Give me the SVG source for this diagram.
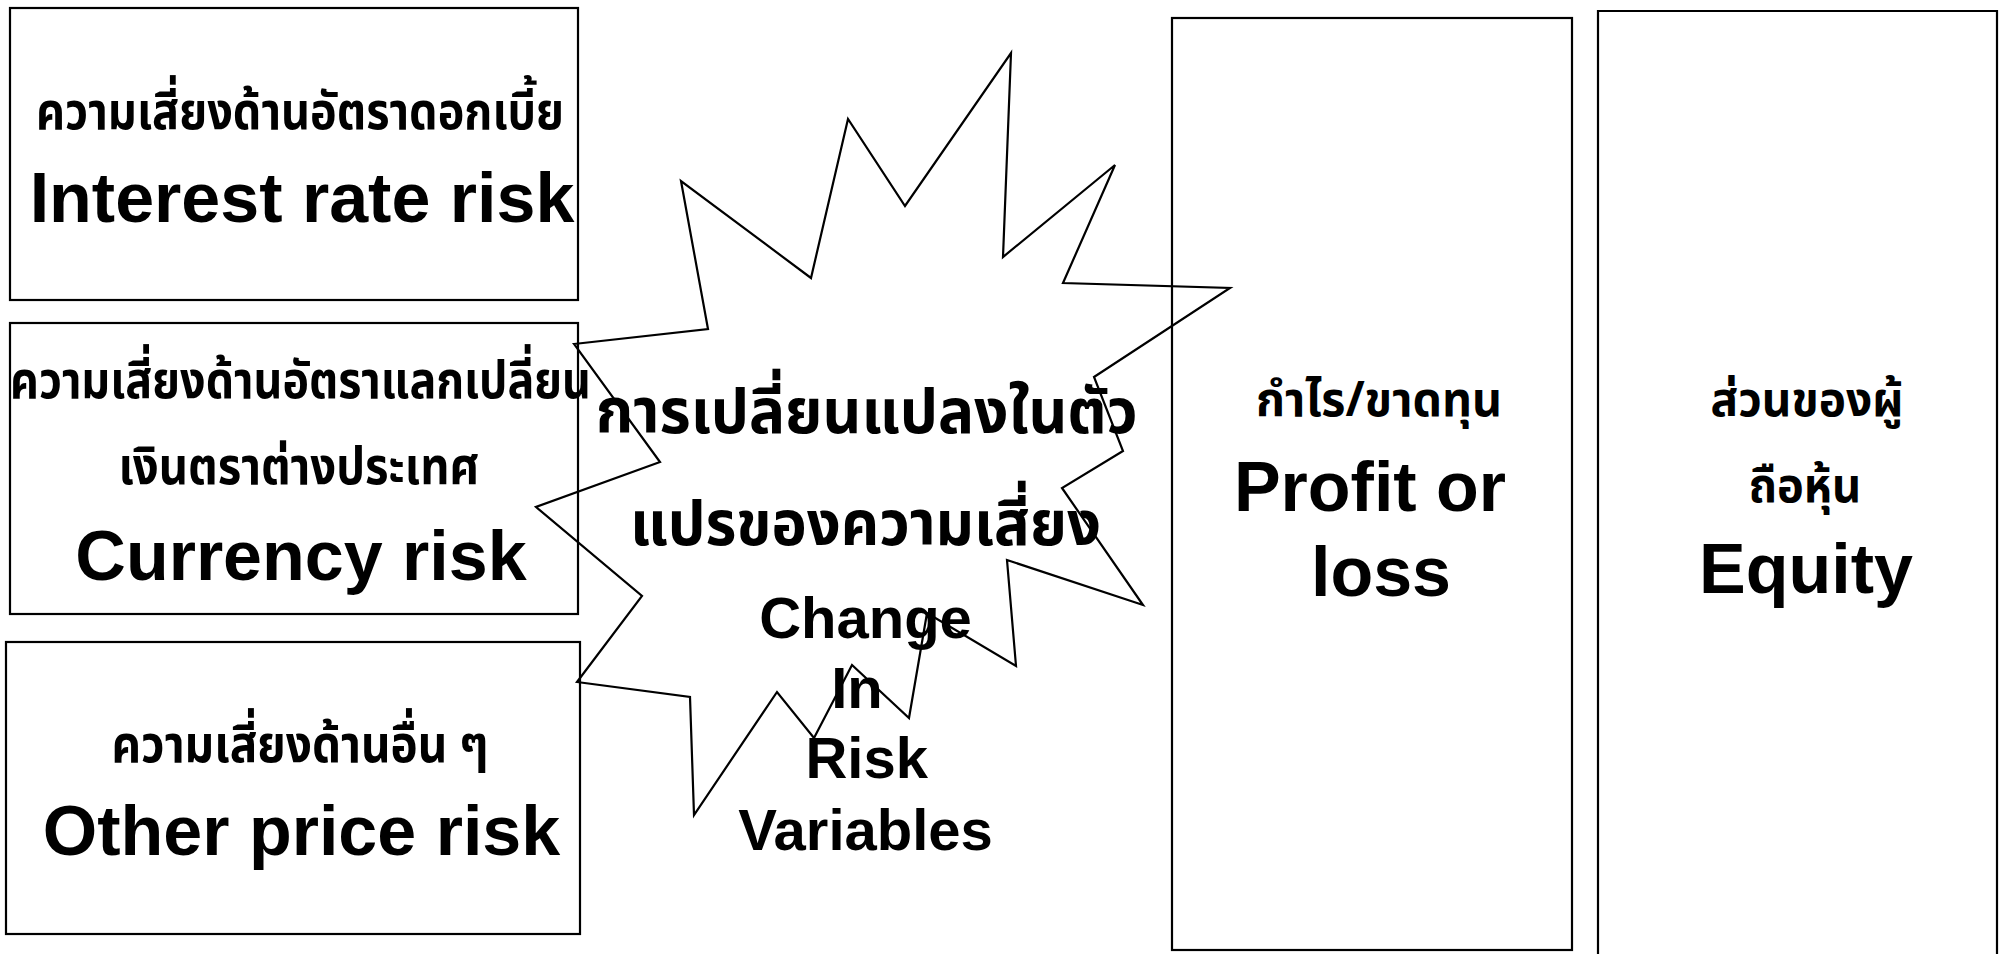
<svg xmlns="http://www.w3.org/2000/svg" width="1999" height="954" viewBox="0 0 1999 954">
<style>
.box{fill:none;stroke:#000;stroke-width:2.2}
.burst{fill:none;stroke:#000;stroke-width:2.2;stroke-linejoin:miter}
.en{font-family:"Liberation Sans",Arial,sans-serif;font-weight:bold;fill:#000;text-anchor:middle}
.th{font-family:"Noto Sans Thai","Noto Sans","DejaVu Sans","Liberation Sans",sans-serif;font-weight:bold;fill:#000;text-anchor:middle}
.big{font-size:70px}
.mid{font-size:58px}
.tl{font-size:52px}
.tc{font-size:62px}
.tr{font-size:48px}
</style>
<rect width="1999" height="954" fill="#fff"/>
<g id="connectors"/>
<g id="interest-rate-risk">
<rect class="box" x="10" y="8" width="568" height="292"/>
<text class="th tl" x="300" y="129" textLength="528" lengthAdjust="spacingAndGlyphs">ความเสี่ยงด้านอัตราดอกเบี้ย</text>
<text class="en big" x="302" y="222">Interest rate risk</text>
</g>
<g id="currency-risk">
<rect class="box" x="10" y="323" width="568" height="291"/>
<text class="th tl" x="300.5" y="398" textLength="581" lengthAdjust="spacingAndGlyphs">ความเสี่ยงด้านอัตราแลกเปลี่ยน</text>
<text class="th tl" x="299" y="484" textLength="361" lengthAdjust="spacingAndGlyphs">เงินตราต่างประเทศ</text>
<text class="en big" x="301" y="580">Currency risk</text>
</g>
<g id="other-price-risk">
<rect class="box" x="6" y="642" width="574" height="292"/>
<text class="th tl" x="300" y="762" textLength="377" lengthAdjust="spacingAndGlyphs">ความเสี่ยงด้านอื่น ๆ</text>
<text class="en big" x="301.5" y="855">Other price risk</text>
</g>
<g id="change-in-risk-variables">
<polygon class="burst" points="574,344 708,329 681,181 811,278 848,119 905,206 1011,53 1003,257 1115,165 1063,283 1230,288 1094,377 1123,451 1062,488 1143,605 1007,560 1016,666 927,613 909,718 852,665 814,738 777,692 694,815 690,697 577,682 642,596 536,507 660,462"/>
<text class="th tc" x="866.7" y="433" textLength="542" lengthAdjust="spacingAndGlyphs">การเปลี่ยนแปลงในตัว</text>
<text class="th tc" x="865.4" y="545" textLength="471" lengthAdjust="spacingAndGlyphs">แปรของความเสี่ยง</text>
<text class="en mid" x="865.5" y="638">Change</text>
<text class="en mid" x="857" y="708">In</text>
<text class="en mid" x="866.7" y="778">Risk</text>
<text class="en mid" x="865.5" y="850">Variables</text>
</g>
<g id="profit-or-loss">
<rect class="box" x="1172" y="18" width="400" height="932"/>
<text class="th tr" x="1379" y="416" textLength="246" lengthAdjust="spacingAndGlyphs">กำไร/ขาดทุน</text>
<text class="en big" x="1370" y="511">Profit or</text>
<text class="en big" x="1381" y="596">loss</text>
</g>
<g id="equity">
<path class="box" d="M1598,960 V11 H1997 V960"/>
<text class="th tr" x="1807" y="416" textLength="193" lengthAdjust="spacingAndGlyphs">ส่วนของผู้</text>
<text class="th tr" x="1805" y="502" textLength="112.5" lengthAdjust="spacingAndGlyphs">ถือหุ้น</text>
<text class="en big" x="1806" y="593">Equity</text>
</g>
</svg>
